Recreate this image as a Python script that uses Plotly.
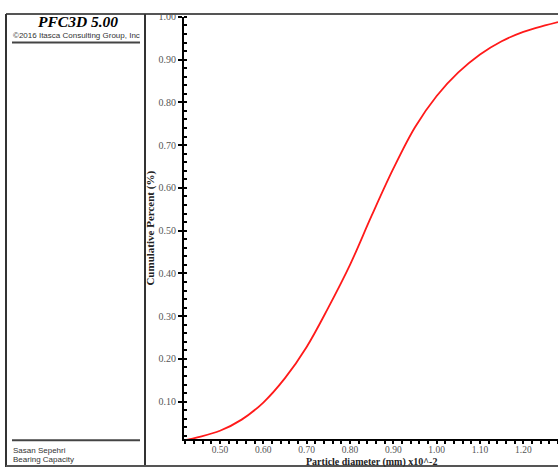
import plotly.graph_objects as go

W, H = 558, 467

# Data
diameter = [0.42, 0.45, 0.50, 0.55, 0.60, 0.65, 0.70, 0.75, 0.80, 0.85, 0.90,
            0.95, 1.00, 1.05, 1.10, 1.15, 1.20, 1.25, 1.28]
cum_percent = [0.010, 0.017, 0.032, 0.058, 0.098, 0.155, 0.228, 0.320, 0.420, 0.535, 0.645,
               0.742, 0.815, 0.870, 0.912, 0.943, 0.965, 0.980, 0.988]
x_ticks = [0.50, 0.60, 0.70, 0.80, 0.90, 1.00, 1.10, 1.20]
y_ticks = [0.10, 0.20, 0.30, 0.40, 0.50, 0.60, 0.70, 0.80, 0.90, 1.00]

def px(x):
    return x / W

def py(y):
    return (H - y) / H

fig = go.Figure()
fig.add_trace(go.Scatter(x=diameter, y=cum_percent, mode="lines",
                         line=dict(color="#ff1a1a", width=1.8, shape="spline", smoothing=1.0),
                         showlegend=False, hoverinfo="skip", cliponaxis=False))

tickfont = dict(family="Liberation Serif", size=9.5, color="#555555")
fig.update_layout(
    width=W, height=H, margin=dict(l=0, r=0, t=0, b=0),
    paper_bgcolor="white", plot_bgcolor="white",
    xaxis=dict(domain=[px(184), 1.0], range=[0.417, 1.28],
               tickvals=x_ticks, ticktext=[f"{v:.2f}" for v in x_ticks],
               ticks="",
               showline=True, linecolor="black", linewidth=2,
               showgrid=False, zeroline=False, tickfont=tickfont,
               minor=dict(dtick=0.02, tick0=0.5, ticks="outside", ticklen=3,
                          tickwidth=2, tickcolor="black", showgrid=False)),
    yaxis=dict(domain=[py(439), py(12)], range=[0.012, 1.0],
               tickvals=y_ticks, ticktext=[f"{v:.2f}" for v in y_ticks],
               ticks="outside", ticklen=4, tickwidth=2, tickcolor="black",
               showline=True, linecolor="black", linewidth=2,
               showgrid=False, zeroline=False,
               tickfont=dict(family="Liberation Serif", size=10, color="#555555"),
               minor=dict(dtick=0.02, tick0=0.0, ticks="inside", ticklen=3,
                          tickwidth=2, tickcolor="black", showgrid=False)),
)

shapes = []
def line(x0, y0, x1, y1, color="#444444", width=2):
    shapes.append(dict(type="line", xref="paper", yref="paper",
                       x0=px(x0), y0=py(y0), x1=px(x1), y1=py(y1),
                       line=dict(color=color, width=width)))

line(6, 9, 558, 9, "#555555", 2)
line(6, 9, 6, 467, "#333333", 2)
line(145, 9, 145, 467, "#333333", 2)
line(6, 466, 558, 466, "#555555", 2)
line(12, 38, 140, 38, "#444444", 2)
line(12, 440, 140, 440, "#444444", 2)
fig.update_layout(shapes=shapes)

ann = [
    dict(text="<b><i>PFC3D 5.00</i></b>", x=px(78), y=py(17),
         font=dict(family="Liberation Serif", size=15.5, color="black")),
    dict(text="©2016 Itasca Consulting Group, Inc", x=px(76), y=py(30.5),
         font=dict(family="Liberation Sans", size=8, color="#333333")),
    dict(text="Sasan Sepehri", x=px(11), y=py(450), xanchor="left",
         font=dict(family="Liberation Sans", size=8, color="#333333")),
    dict(text="Bearing Capacity", x=px(11), y=py(459), xanchor="left",
         font=dict(family="Liberation Sans", size=8, color="#333333")),
    dict(text="<b>Particle diameter (mm) x10^-2</b>", x=px(371), y=py(461.5),
         font=dict(family="Liberation Serif", size=10, color="#222222")),
    dict(text="<b>Cumulative Percent (%)</b>", x=px(151), y=py(226), textangle=-90,
         font=dict(family="Liberation Serif", size=11, color="#222222")),
]
for a in ann:
    a.setdefault("xanchor", "center")
    a.update(xref="paper", yref="paper", showarrow=False, yanchor="middle")
fig.update_layout(annotations=ann)

fig.write_html("out.html", config={"displayModeBar": False},
               post_script="document.body.style.margin='0';document.body.style.overflow='hidden';")
